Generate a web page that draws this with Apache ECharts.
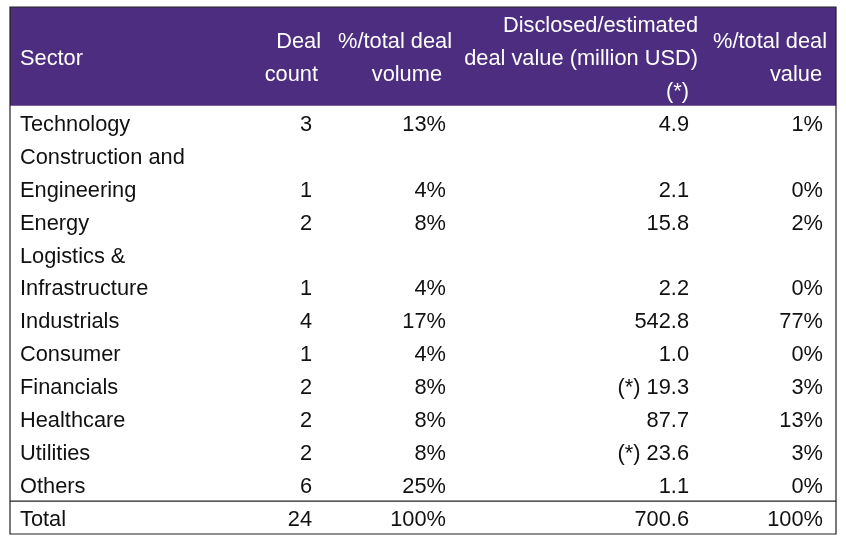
<!DOCTYPE html>
<html>
<head>
<meta charset="utf-8">
<script src="https://cdn.jsdelivr.net/npm/echarts@6/dist/echarts.min.js"></script>
<style>
  html, body { margin: 0; padding: 0; background: #fff; }
  #main { width: 846px; height: 546px; }
</style>
</head>
<body>
<div id="main"></div>
<script>
// table data
const sectors = ['Technology', 'Construction and\nEngineering', 'Energy', 'Logistics &\nInfrastructure',
  'Industrials', 'Consumer', 'Financials', 'Healthcare', 'Utilities', 'Others'];
const dealCount = [3, 1, 2, 1, 4, 1, 2, 2, 2, 6];
const volumeShare = [13, 4, 8, 4, 17, 4, 8, 8, 8, 25];
const dealValue = [4.9, 2.1, 15.8, 2.2, 542.8, 1.0, 19.3, 87.7, 23.6, 1.1];
const estimated = [false, false, false, false, false, false, true, false, true, false];
const valueShare = [1, 0, 2, 0, 77, 0, 3, 13, 3, 0];
const totalRow = ['Total', 24, 100, 700.6, 100];
const headers = ['Sector', 'Deal\ncount', '%/total deal\nvolume', 'Disclosed/estimated\ndeal value (million USD)\n(*)', '%/total deal\nvalue'];

// layout (x in px from table left, y in text lines)
const HEADER_LINES = 3;
const TOTAL_LINES = 16;
const TABLE_W = 826;
const bodyRight = [null, 302, 436, 679, 813];
const headRight = [null, 310, 440, 688, 814];
const headFirstRight = [null, 311, 442, 688, 817];
const lastLineRight = [null, 308, 432, 679, 812];
const TEXT_DY = 2.5;
const FONT = '21.8px "Liberation Sans", Arial, sans-serif';

const myChart = echarts.init(document.getElementById('main'));

// build row list: header, sectors, total
const rows = [];
rows.push({ type: 'header', cells: headers, lines: HEADER_LINES });
sectors.forEach((s, i) => {
  rows.push({
    type: 'body',
    lines: s.split('\n').length,
    cells: [
      s,
      String(dealCount[i]),
      volumeShare[i] + '%',
      (estimated[i] ? '(*) ' : '') + dealValue[i].toFixed(1),
      valueShare[i] + '%'
    ]
  });
});
rows.push({
  type: 'total',
  lines: 1,
  cells: [totalRow[0], String(totalRow[1]), totalRow[2] + '%', totalRow[3].toFixed(1), totalRow[4] + '%']
});

let start = 0;
rows.forEach(r => { r.start = start; start += r.lines; });

function renderRow(params, api) {
  const r = rows[params.dataIndex];
  const children = [];
  const tl = api.coord([0, r.start]);
  const br = api.coord([TABLE_W, r.start + r.lines]);

  if (r.type === 'header') {
    children.push({
      type: 'rect',
      shape: { x: tl[0], y: tl[1], width: br[0] - tl[0], height: br[1] - tl[1] },
      style: { fill: '#4d2d80' }
    });
  }
  if (r.type === 'total') {
    children.push({
      type: 'line',
      shape: { x1: tl[0], y1: tl[1], x2: br[0], y2: tl[1] },
      style: { stroke: '#222', lineWidth: 1.2 }
    });
  }

  const color = r.type === 'header' ? '#fff' : '#111';
  r.cells.forEach((txt, c) => {
    const parts = txt.split('\n');
    let first;
    if (r.type === 'header') {
      first = r.start + (r.lines - parts.length) / 2;
    } else {
      // numbers sit on the last line of a wrapped row
      first = c === 0 ? r.start : r.start + r.lines - 1;
    }
    parts.forEach((p, k) => {
      let x, align;
      if (c === 0) {
        x = 10; align = 'left';
      } else if (r.type === 'header') {
        align = 'right';
        x = k === 0 ? headFirstRight[c] : (k === parts.length - 1 && parts.length === 3 ? lastLineRight[c] : headRight[c]);
        if (parts.length === 2 && k === 1) x = lastLineRight[c];
      } else {
        x = bodyRight[c]; align = 'right';
      }
      const pt = api.coord([x, first + k + 0.5]);
      children.push({
        type: 'text',
        x: pt[0],
        y: pt[1] + TEXT_DY,
        style: {
          text: p,
          font: FONT,
          fill: color,
          align: align,
          verticalAlign: 'middle'
        }
      });
    });
  });
  return { type: 'group', children: children };
}

function renderFrame(params, api) {
  const tl = api.coord([0, 0]);
  const br = api.coord([TABLE_W, TOTAL_LINES]);
  return {
    type: 'rect',
    shape: { x: tl[0], y: tl[1], width: br[0] - tl[0], height: br[1] - tl[1] },
    style: { fill: 'none', stroke: '#222', lineWidth: 1.2 },
    z2: 10
  };
}

const options = {
  animation: false,
  grid: { left: 10, right: 10, top: 7, bottom: 12 },
  xAxis: { type: 'value', min: 0, max: TABLE_W, show: false },
  yAxis: { type: 'value', min: 0, max: TOTAL_LINES, inverse: true, show: false },
  series: [
    {
      type: 'custom',
      renderItem: renderRow,
      data: rows.map((r, i) => [i, r.start]),
      clip: false,
      silent: true
    },
    {
      type: 'custom',
      renderItem: renderFrame,
      data: [[0, 0]],
      clip: false,
      silent: true,
      z: 5
    }
  ]
};

myChart.setOption(options);
</script>
</body>
</html>
